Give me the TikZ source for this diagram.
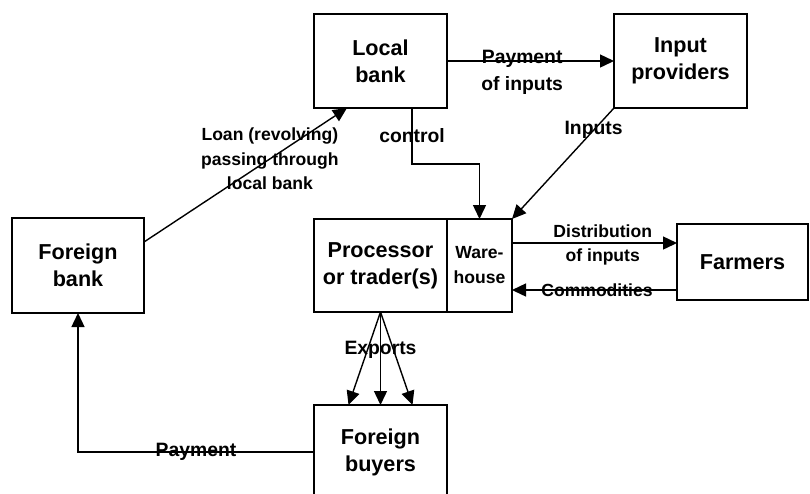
\documentclass[tikz,border=0pt]{standalone}
\usepackage{fontspec}
\setmainfont{Liberation Sans}
\usetikzlibrary{arrows.meta,positioning}

\tikzset{
  actor/.style={draw, rectangle, minimum width=2.66cm, minimum height=1.88cm,
    inner sep=0pt, outer sep=0pt, align=center, line width=0.3mm,
    font=\fontsize{12.3}{15.3}\selectfont\bfseries},
  flow/.style={font=\fontsize{11}{15.3}\selectfont\bfseries, align=center, inner sep=1pt},
  smallflow/.style={font=\fontsize{10}{13.8}\selectfont\bfseries, align=center, inner sep=1pt}
}

\begin{document}
\begin{tikzpicture}[->,>={Triangle[length=2.8mm,width=2.6mm]},line width=0.28mm]
  \useasboundingbox (0,0) rectangle (16.2,-9.86);
  \clip (0,0) rectangle (16.2,-9.86);

  \node[actor]                 (lbank) at (7.61,-1.22)     {Local\\bank};
  \node[actor]                 (inp)   [right=3.34cm of lbank] {Input\\providers};
  \node[actor, minimum height=1.86cm] (proc) [below=2.22cm of lbank] {Processor\\or trader(s)};
  \node[actor, minimum width=1.3cm, minimum height=1.86cm,
        font=\fontsize{10}{14.2}\selectfont\bfseries] (ware) [right=0pt of proc] {Ware-\\house};
  \node[actor, minimum width=2.62cm, minimum height=1.52cm]
                               (farm)  [right=3.3cm of ware, yshift=0.07cm] {Farmers};
  \node[actor, minimum width=2.64cm, minimum height=1.9cm]
                               (fbank) [left=3.4cm of proc] {Foreign\\bank};
  \node[actor]                 (fbuy)  [below=1.86cm of proc] {Foreign\\buyers};

  \path (lbank) edge node[flow, pos=0.45, yshift=-0.22cm] {Payment\\of inputs} (inp)
        (inp.south west) edge node[flow, pos=0.2] {Inputs} (ware.north east)
        ([yshift=0.47cm]fbank.east) edge node[smallflow, pos=0.62] {Loan (revolving)\\passing through\\local bank} ([xshift=0.66cm]lbank.south west)
        ([yshift=0.45cm]ware.east) edge node[smallflow, pos=0.55, yshift=-0.04cm] {Distribution\\of inputs} ([yshift=0.45cm]ware.east -| farm.west)
        ([yshift=-0.49cm]ware.east -| farm.west) edge node[smallflow, pos=0.485] {Commodities} ([yshift=-0.49cm]ware.east);

  \draw ([xshift=0.63cm]lbank.south) -- ++(0,-1.12) node[flow, midway] {control} -| (ware.north);

  \path (proc.south) edge ([xshift=-0.64cm]fbuy.north)
        (proc.south) edge node[flow, pos=0.41] {Exports} (fbuy.north)
        (proc.south) edge ([xshift=0.64cm]fbuy.north);

  \draw (fbuy.west) -| node[flow, pos=0.25] {Payment} (fbank.south);
\end{tikzpicture}
\end{document}
